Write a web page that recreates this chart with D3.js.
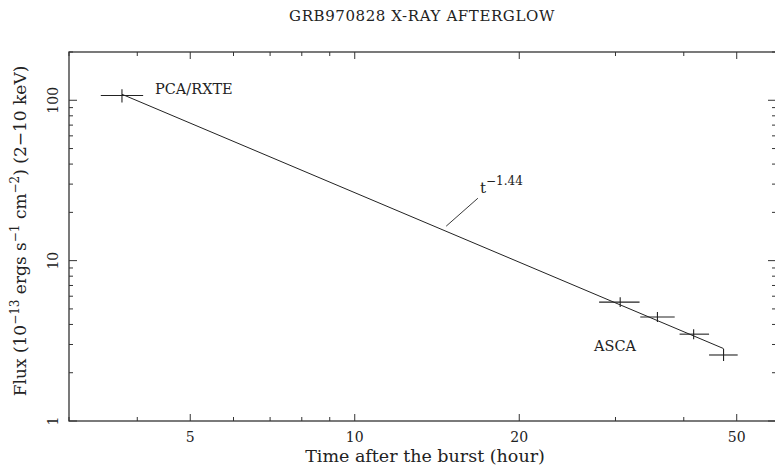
<!DOCTYPE html>
<html>
<head>
<meta charset="utf-8">
<script src="https://cdn.jsdelivr.net/npm/d3@7"></script>
<style>
  body { margin: 0; background: #fff; }
  text { font-family: "DejaVu Serif", serif; fill: #222; }
</style>
</head>
<body>
<div id="chart"></div>
<script>
// data
var pcaTime = [3.75], pcaTimeLo = [3.43], pcaTimeHi = [4.10];
var pcaFlux = [107], pcaFluxLo = [97], pcaFluxHi = [117];

var ascaTime = [30.6, 35.8, 41.7, 47.3];
var ascaTimeLo = [28.0, 33.3, 39.3, 44.5];
var ascaTimeHi = [33.2, 38.5, 44.5, 50.2];
var ascaFlux = [5.51, 4.45, 3.48, 2.58];
var ascaFluxLo = [5.13, 4.15, 3.24, 2.37];
var ascaFluxHi = [5.92, 4.78, 3.74, 2.81];

// power-law fit t^-1.44, end points
var fitTime = [3.75, 47.3];
var fitFlux = [109, 2.83];

var xTickLabels = [5, 10, 20, 50];
var yTickLabels = [1, 10, 100];

var svgWidth = 775;
var svgHeight = 471;

var svg = d3.select("#chart")
  .append("svg")
  .attr("width", svgWidth)
  .attr("height", svgHeight);

var plotLeft = 69, plotRight = 780, plotTop = 52, plotBottom = 421;

var x = d3.scaleLog().domain([3, 60]).range([plotLeft, plotRight]);
var y = d3.scaleLog().domain([1, 200]).range([plotBottom, plotTop]);

// minor tick values
var xMinor = [];
[1, 10].forEach(function(dec) {
  for (var k = 1; k < 10; k++) {
    var v = k * dec;
    if (v >= 3 && v <= 60) xMinor.push(v);
  }
});
xMinor.push(60);
var yMinor = [];
[1, 10, 100].forEach(function(dec) {
  for (var k = 1; k < 10; k++) {
    var v = k * dec;
    if (v <= 200) yMinor.push(v);
  }
});

var frameColor = "#333";

// frame
svg.append("rect")
  .attr("x", plotLeft).attr("y", plotTop)
  .attr("width", plotRight - plotLeft).attr("height", plotBottom - plotTop)
  .attr("fill", "none").attr("stroke", frameColor).attr("stroke-width", 1.3);

function isDecade(v) {
  var l = Math.log10(v);
  return Math.abs(l - Math.round(l)) < 1e-6;
}
function xMajor(v) { return xTickLabels.indexOf(v) >= 0; }

// x ticks (bottom and top, pointing inward)
xMinor.forEach(function(v) {
  var len = xMajor(v) ? 7 : 4;
  svg.append("line").attr("x1", x(v)).attr("x2", x(v))
    .attr("y1", plotBottom).attr("y2", plotBottom - len)
    .attr("stroke", frameColor);
  svg.append("line").attr("x1", x(v)).attr("x2", x(v))
    .attr("y1", plotTop).attr("y2", plotTop + len)
    .attr("stroke", frameColor);
});

// y ticks (left and right)
yMinor.forEach(function(v) {
  var len = isDecade(v) ? 8 : 4;
  svg.append("line").attr("x1", plotLeft).attr("x2", plotLeft + len)
    .attr("y1", y(v)).attr("y2", y(v)).attr("stroke", frameColor);
  svg.append("line").attr("x1", plotRight - 4).attr("x2", plotRight - 4 - len)
    .attr("y1", y(v)).attr("y2", y(v)).attr("stroke", frameColor);
});

// x tick labels
svg.selectAll(".xlab")
  .data(xTickLabels)
  .enter()
  .append("text")
  .attr("x", d => x(d))
  .attr("y", 442)
  .attr("text-anchor", "middle")
  .attr("font-size", "14px")
  .text(d => d);

// y tick labels, rotated
svg.selectAll(".ylab")
  .data(yTickLabels)
  .enter()
  .append("text")
  .attr("transform", d => `translate(58, ${y(d)}) rotate(-90)`)
  .attr("text-anchor", "middle")
  .attr("font-size", "14px")
  .text(d => d);

// title
svg.append("text")
  .attr("x", 422).attr("y", 21)
  .attr("text-anchor", "middle")
  .attr("font-family", "Liberation Mono")
  .attr("font-size", "15px")
  .attr("letter-spacing", "0.6px")
  .text("GRB970828 X-RAY AFTERGLOW");

// x axis label
svg.append("text")
  .attr("x", 425).attr("y", 462)
  .attr("text-anchor", "middle")
  .attr("font-size", "17.5px")
  .text("Time after the burst (hour)");

// y axis label with superscripts
var yl = svg.append("text")
  .attr("transform", "translate(26, 231) rotate(-90)")
  .attr("text-anchor", "middle")
  .attr("font-size", "17px");
yl.append("tspan").text("Flux (10");
yl.append("tspan").attr("dy", -7).attr("font-size", "12px").text("\u221213");
yl.append("tspan").attr("dy", 7).text(" ergs s");
yl.append("tspan").attr("dy", -7).attr("font-size", "12px").text("\u22121");
yl.append("tspan").attr("dy", 7).text(" cm");
yl.append("tspan").attr("dy", -7).attr("font-size", "12px").text("\u22122");
yl.append("tspan").attr("dy", 7).text(") (2\u221210 keV)");

// fit line
var fitData = fitTime.map((t, i) => ({t: t, f: fitFlux[i]}));
svg.append("path")
  .datum(fitData)
  .attr("fill", "none")
  .attr("stroke", "#222")
  .attr("stroke-width", 1)
  .attr("d", d3.line().x(d => x(d.t)).y(d => y(d.f)));

// error crosses
function crosses(t, tlo, thi, f, flo, fhi) {
  var rows = t.map((v, i) => ({t: v, tlo: tlo[i], thi: thi[i], f: f[i], flo: flo[i], fhi: fhi[i]}));
  var g = svg.append("g").attr("stroke", "#222").attr("stroke-width", 1.1);
  g.selectAll(".h").data(rows).enter().append("line")
    .attr("x1", d => x(d.tlo)).attr("x2", d => x(d.thi))
    .attr("y1", d => y(d.f)).attr("y2", d => y(d.f));
  g.selectAll(".v").data(rows).enter().append("line")
    .attr("x1", d => x(d.t)).attr("x2", d => x(d.t))
    .attr("y1", d => y(d.flo)).attr("y2", d => y(d.fhi));
}
crosses(pcaTime, pcaTimeLo, pcaTimeHi, pcaFlux, pcaFluxLo, pcaFluxHi);
crosses(ascaTime, ascaTimeLo, ascaTimeHi, ascaFlux, ascaFluxLo, ascaFluxHi);

// labels
svg.append("text").attr("x", 155).attr("y", 94)
  .attr("font-size", "14.5px").text("PCA/RXTE");
svg.append("text").attr("x", 594).attr("y", 351)
  .attr("font-size", "14.5px").text("ASCA");

// t^-1.44 annotation with pointer
svg.append("line")
  .attr("x1", x(16.8)).attr("y1", y(24.5))
  .attr("x2", x(14.7)).attr("y2", y(16.4))
  .attr("stroke", "#222").attr("stroke-width", 0.9);
var tl = svg.append("text").attr("x", 480).attr("y", 193).attr("font-size", "15px");
tl.append("tspan").text("t");
tl.append("tspan").attr("dy", -8).attr("font-size", "12px").text("\u22121.44");
</script>
</body>
</html>
